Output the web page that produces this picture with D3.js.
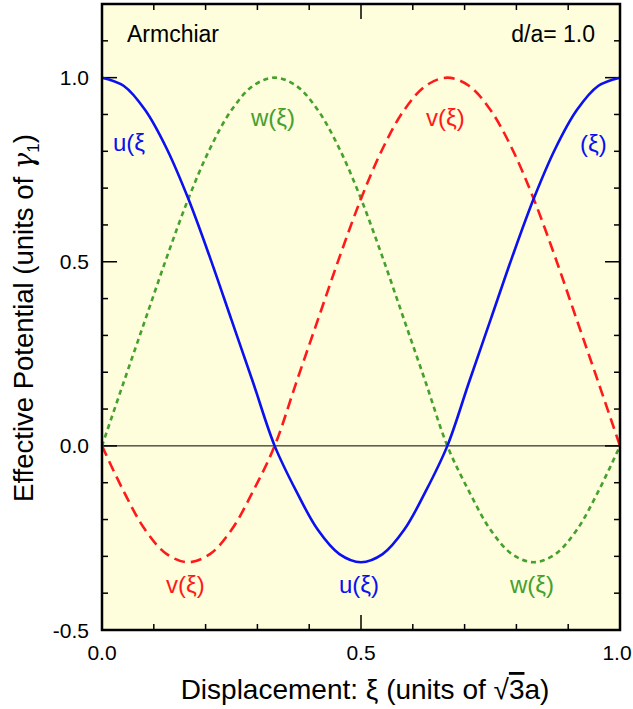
<!DOCTYPE html>
<html><head><meta charset="utf-8">
<script src="https://cdn.jsdelivr.net/npm/d3@7"></script>
<style>body{margin:0;background:#fff}svg{display:block}text{font-family:"Liberation Sans",Arial,sans-serif}</style>
</head><body>
<script>
const xi = d3.range(0, 25).map(k => k / 24);
const uVals = [1.000,0.978,0.912,0.807,0.671,0.512,0.342,0.172,0.000,-0.123,-0.228,-0.294,-0.316,-0.294,-0.228,-0.123,0.000,0.172,0.342,0.512,0.671,0.807,0.912,0.978,1.000];
const vVals = [0.000,-0.123,-0.228,-0.294,-0.316,-0.294,-0.228,-0.123,0.000,0.172,0.342,0.512,0.671,0.807,0.912,0.978,1.000,0.978,0.912,0.807,0.671,0.512,0.342,0.172,0.000];
const wVals = [0.000,0.172,0.342,0.512,0.671,0.807,0.912,0.978,1.000,0.978,0.912,0.807,0.671,0.512,0.342,0.172,0.000,-0.123,-0.228,-0.294,-0.316,-0.294,-0.228,-0.123,0.000];
const xTickLabels = [0.0, 0.5, 1.0];
const yTickLabels = [-0.5, 0.0, 0.5, 1.0];

const W = 633, H = 709;
const m = {l:102, r:13, t:4, b:79};
const svg = d3.select("body").append("svg").attr("width", W).attr("height", H);
const x = d3.scaleLinear().domain([0,1]).range([m.l, W - m.r]);
const y = d3.scaleLinear().domain([-0.5,1.2]).range([H - m.b, m.t]);

svg.append("rect").attr("x", x(0)).attr("y", y(1.2)).attr("width", x(1)-x(0)).attr("height", y(-0.5)-y(1.2)).attr("fill", "#fefddc");

// zero line
svg.append("line").attr("x1", x(0)).attr("x2", x(1)).attr("y1", y(0)).attr("y2", y(0)).attr("stroke", "#000").attr("stroke-width", 1);

// ticks
const xt = d3.range(0, 11).map(i => i / 10);
const yt = d3.range(-5, 12).map(i => i / 10);
const isMaj = v => Math.abs(v * 2 - Math.round(v * 2)) < 1e-6;
const tk = svg.append("g").attr("stroke", "#000").attr("stroke-width", 1.5);
xt.forEach(v => {
  const L = isMaj(v) ? 15 : 6;
  tk.append("line").attr("x1", x(v)).attr("x2", x(v)).attr("y1", y(-0.5)).attr("y2", y(-0.5) - L);
  tk.append("line").attr("x1", x(v)).attr("x2", x(v)).attr("y1", y(1.2)).attr("y2", y(1.2) + L);
});
yt.forEach(v => {
  const L = isMaj(v) ? 15 : 6;
  tk.append("line").attr("y1", y(v)).attr("y2", y(v)).attr("x1", x(0)).attr("x2", x(0) + L);
  tk.append("line").attr("y1", y(v)).attr("y2", y(v)).attr("x1", x(1)).attr("x2", x(1) - L);
});

// curves
const line = d3.line().x((d,i) => x(xi[i])).y(d => y(d)).curve(d3.curveCatmullRom.alpha(0.5));
svg.append("path").attr("d", line(wVals)).attr("fill","none").attr("stroke","#45a02e").attr("stroke-width",2.6).attr("stroke-dasharray","5,4");
svg.append("path").attr("d", line(vVals)).attr("fill","none").attr("stroke","#ff1a1a").attr("stroke-width",2.6).attr("stroke-dasharray","11,6");
svg.append("path").attr("d", line(uVals)).attr("fill","none").attr("stroke","#0a10f0").attr("stroke-width",2.6);

// frame
svg.append("rect").attr("x", x(0)).attr("y", y(1.2)).attr("width", x(1)-x(0)).attr("height", y(-0.5)-y(1.2)).attr("fill", "none").attr("stroke", "#000").attr("stroke-width", 2.5);

// tick labels
svg.append("g").selectAll("text").data(xTickLabels).join("text")
  .attr("x", d => Math.min(x(d), W - 16)).attr("y", 660).attr("text-anchor","middle").attr("font-size", 21).text(d => d.toFixed(1));
svg.append("g").selectAll("text").data(yTickLabels).join("text")
  .attr("x", 89).attr("y", d => y(d) + 7.5).attr("text-anchor","end").attr("font-size", 21).text(d => d.toFixed(1));

// axis titles
const xtitle = svg.append("text").attr("x", 365).attr("y", 699).attr("text-anchor","middle").attr("font-size", 28);
xtitle.append("tspan").text("Displacement: ξ (units of √");
xtitle.append("tspan").attr("text-decoration","overline").text("3");
xtitle.append("tspan").text("a)");

const ytitle = svg.append("text").attr("transform","translate(33,318) rotate(-90)").attr("text-anchor","middle").attr("font-size", 27.5);
ytitle.append("tspan").text("Effective Potential (units of ");
ytitle.append("tspan").attr("font-family","DejaVu Serif, serif").attr("font-style","italic").text("γ");
ytitle.append("tspan").attr("font-size", 17).attr("dy", 6).text("1");
ytitle.append("tspan").attr("dy", -6).text(")");

// annotations
svg.append("text").attr("x", 127).attr("y", 42).attr("font-size", 23).text("Armchiar");
svg.append("text").attr("x", 595).attr("y", 42).attr("text-anchor","end").attr("font-size", 23).text("d/a= 1.0");

const labels = [
  {t:"u(ξ", x:113, y:151, c:"#0a10f0"},
  {t:"w(ξ)", x:251, y:126, c:"#45a02e"},
  {t:"v(ξ)", x:426, y:126, c:"#ff1a1a"},
  {t:"(ξ)", x:580, y:152, c:"#0a10f0"},
  {t:"v(ξ)", x:166, y:593, c:"#ff1a1a"},
  {t:"u(ξ)", x:339, y:593, c:"#0a10f0"},
  {t:"w(ξ)", x:510, y:593, c:"#45a02e"}
];
svg.append("g").selectAll("text").data(labels).join("text")
  .attr("x", d => d.x).attr("y", d => d.y).attr("fill", d => d.c).attr("font-size", 24).text(d => d.t);
</script>
</body></html>
